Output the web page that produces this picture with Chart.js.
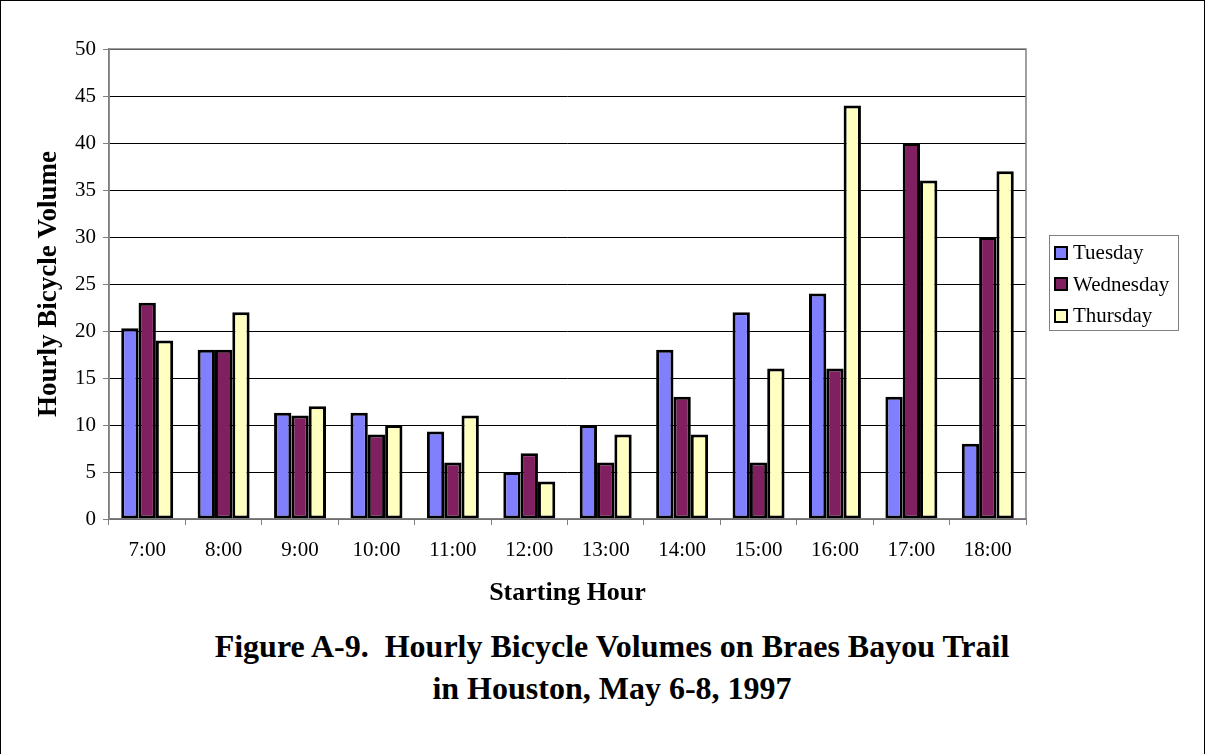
<!DOCTYPE html>
<html lang="en">
<head>
  <meta charset="UTF-8" />
  <title>Hourly Bicycle Volumes on Braes Bayou Trail</title>
  <script src="https://cdn.jsdelivr.net/npm/chart.js"></script>
  <style>
    body { margin: 0; background: #fff; font-family: 'Liberation Serif', 'Times New Roman', serif; }
    .page {
      position: relative; width: 1205px; height: 754px; box-sizing: border-box;
      border: 1px solid #000; border-bottom: none; overflow: hidden;
    }
    .chart-wrap { position: absolute; left: 0; top: 0; width: 1205px; height: 612px; }
    .legend {
      position: absolute; left: 1048px; top: 234px; width: 130px; height: 96px;
      border: 1px solid #808080; box-sizing: border-box; padding: 1px 0 0 4px;
    }
    .legend div { height: 31.5px; font-size: 21px; display: flex; align-items: center; }
    .legend span.box {
      display: inline-block; width: 10px; height: 10px; border: 2px solid #000;
      margin-right: 5px;
    }
    .caption {
      position: absolute; left: 0; width: 1222px; top: 624px; text-align: center;
      font-weight: bold; font-size: 32px; line-height: 42px;
    }
  </style>
</head>
<body>
  <div class="page">
    <div class="chart-wrap"><canvas id="chart"></canvas></div>
    <div class="legend" id="legend"></div>
    <div class="caption">Figure A-9.&nbsp; Hourly Bicycle Volumes on Braes Bayou Trail<br>in Houston, May 6-8, 1997</div>
  </div>

  <script>
    const hours = ['7:00', '8:00', '9:00', '10:00', '11:00', '12:00', '13:00', '14:00', '15:00', '16:00', '17:00', '18:00'];
    const tuesday   = [20.3, 18, 11.3, 11.3, 9.3, 5, 10, 18, 22, 24, 13, 8];
    const wednesday = [23, 18, 11, 9, 6, 7, 6, 13, 6, 16, 40, 30];
    const thursday  = [19, 22, 12, 10, 11, 4, 9, 9, 16, 44, 36, 37];

    const serif = "'Liberation Serif', 'Times New Roman', serif";

    // gray frame round the plot area
    const plotFrame = {
      id: 'plotFrame',
      afterDraw(chart) {
        const a = chart.chartArea, ctx = chart.ctx;
        ctx.save();
        ctx.strokeStyle = '#808080';
        ctx.lineWidth = 1.5;
        ctx.strokeRect(a.left, a.top, a.right - a.left, a.bottom - a.top);
        ctx.restore();
      }
    };

    const datasets = [
      { label: 'Tuesday', data: tuesday, backgroundColor: '#8080ff' },
      { label: 'Wednesday', data: wednesday, backgroundColor: '#802060' },
      { label: 'Thursday', data: thursday, backgroundColor: '#ffffc0' }
    ].map(d => Object.assign(d, { borderColor: '#000', borderWidth: 3, borderSkipped: false }));

    new Chart(document.getElementById('chart'), {
      type: 'bar',
      data: { labels: hours, datasets },
      plugins: [plotFrame],
      options: {
        responsive: true,
        maintainAspectRatio: false,
        animation: false,
        layout: { padding: { left: 32, right: 180, top: 48, bottom: 4 } },
        datasets: { bar: { categoryPercentage: 0.68, barPercentage: 1.0 } },
        plugins: { legend: { display: false }, tooltip: { enabled: false } },
        scales: {
          x: {
            grid: { offset: true, drawOnChartArea: false, color: '#808080', tickLength: 6 },
            border: { color: '#808080', width: 1.5 },
            ticks: { color: '#000', font: { family: serif, size: 21 }, padding: 13, maxRotation: 0 },
            title: { display: true, text: 'Starting Hour', color: '#000', font: { family: serif, size: 26, weight: 'bold' }, padding: 0 },
            afterFit(scale) { scale.height = 90; }
          },
          y: {
            min: 0, max: 50,
            ticks: { stepSize: 5, color: '#000', font: { family: serif, size: 21 }, padding: 7 },
            grid: { color: '#000', tickColor: '#808080', tickLength: 6, lineWidth: 1 },
            border: { color: '#808080', width: 1.5 },
            title: { display: true, text: 'Hourly Bicycle Volume', color: '#000', font: { family: serif, size: 27, weight: 'bold' }, padding: 0 },
            afterFit(scale) { scale.width = 76; }
          }
        }
      }
    });

    const legend = document.getElementById('legend');
    datasets.forEach(d => {
      const row = document.createElement('div');
      row.innerHTML = '<span class="box" style="background:' + d.backgroundColor + '"></span>' + d.label;
      legend.appendChild(row);
    });
  </script>
</body>
</html>
